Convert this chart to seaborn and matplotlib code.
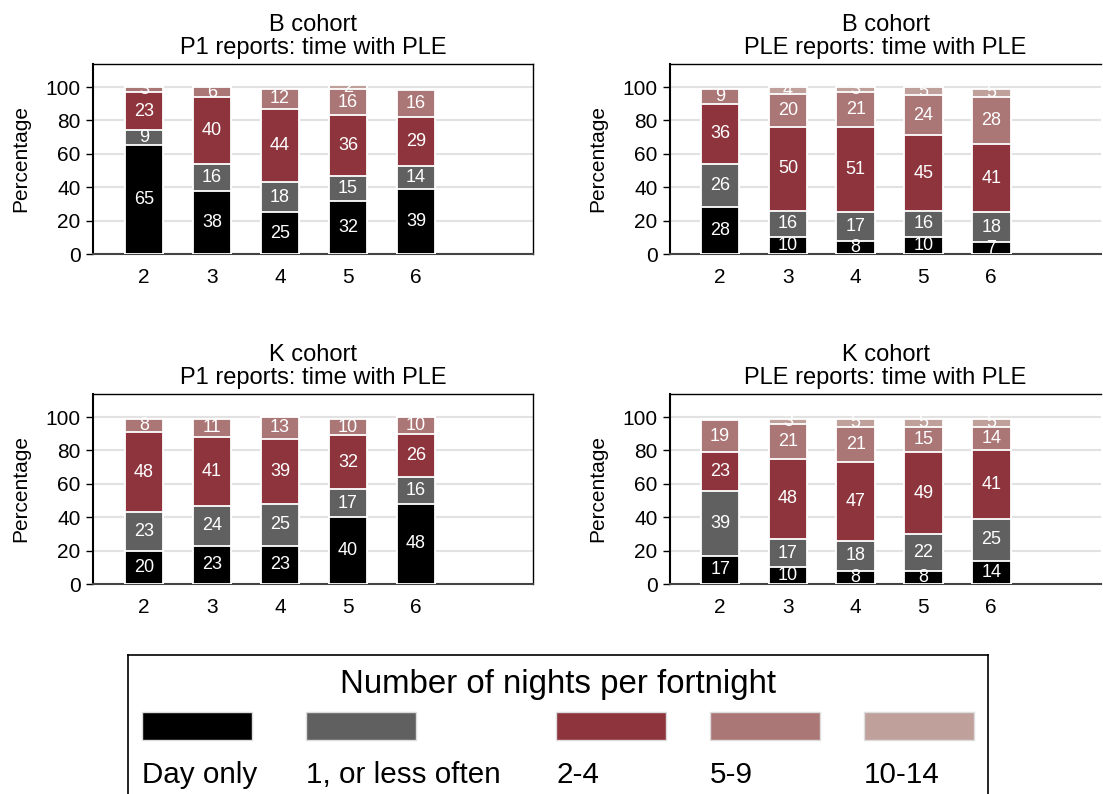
import matplotlib
matplotlib.use('Agg')
import matplotlib.pyplot as plt
from matplotlib.patches import Rectangle
import seaborn as sns
import pandas as pd

# waves on x axis
waves = [2, 3, 4, 5, 6]
cats = ['Day only', '1, or less often', '2-4', '5-9', '10-14']
colors = ['#000000', '#606060', '#8e343d', '#ab7676', '#bfa09a']

# rows: Day only, 1 or less, 2-4, 5-9, 10-14
b_p1 = [[65, 38, 25, 32, 39],
        [9, 16, 18, 15, 14],
        [23, 40, 44, 36, 29],
        [3, 6, 12, 16, 16],
        [0, 0, 0, 2, 0]]
b_ple = [[28, 10, 8, 10, 7],
         [26, 16, 17, 16, 18],
         [36, 50, 51, 45, 41],
         [9, 20, 21, 24, 28],
         [0, 4, 3, 5, 5]]
k_p1 = [[20, 23, 23, 40, 48],
        [23, 24, 25, 17, 16],
        [48, 41, 39, 32, 26],
        [8, 11, 13, 10, 10],
        [0, 0, 0, 0, 0]]
k_ple = [[17, 10, 8, 8, 14],
         [39, 17, 18, 22, 25],
         [23, 48, 47, 49, 41],
         [19, 21, 21, 15, 14],
         [1, 3, 5, 5, 5]]

titles = ['B cohort\nP1 reports: time with PLE',
          'B cohort\nPLE reports: time with PLE',
          'K cohort\nP1 reports: time with PLE',
          'K cohort\nPLE reports: time with PLE']

sns.set_theme(style='white')
plt.rcParams['font.family'] = ['Liberation Sans', 'DejaVu Sans']
plt.rcParams['text.color'] = 'black'
plt.rcParams['axes.labelcolor'] = 'black'
plt.rcParams['xtick.color'] = 'black'
plt.rcParams['ytick.color'] = 'black'

W, H = 1103, 794
fig = plt.figure(figsize=(W / 100, H / 100), dpi=100)


def rect(l, t, r, b):
    return [l / W, 1 - b / H, (r - l) / W, (b - t) / H]


boxes = [(93, 64, 533, 254), (670, 64, 1101, 254),
         (93, 394, 533, 584), (670, 394, 1101, 584)]
xlims = [(-0.75, 5.72), (-0.74, 5.62), (-0.75, 5.72), (-0.74, 5.62)]
order = [str(w) for w in waves]

for data, title, box, xl in zip([b_p1, b_ple, k_p1, k_ple], titles, boxes, xlims):
    ax = fig.add_axes(rect(*box))
    df = pd.DataFrame(data, index=cats, columns=order).T
    cum = df.cumsum(axis=1)
    # draw from top layer down so lower layers cover upper ones
    for i in range(len(cats) - 1, -1, -1):
        sns.barplot(x=order, y=cum[cats[i]].values, order=order, color=colors[i],
                    width=0.57, edgecolor='white', linewidth=1.3,
                    errorbar=None, saturation=1, ax=ax, zorder=3)
    for j, w in enumerate(order):
        base = 0
        for c in cats:
            v = df.loc[w, c]
            if v >= 2:
                ax.text(j, base + v / 2, str(v), color='white', fontsize=13,
                        ha='center', va='center', zorder=5)
            base += v
    ax.set_xlim(*xl)
    ax.set_ylim(0, 113.8)
    ax.set_yticks([0, 20, 40, 60, 80, 100])
    ax.yaxis.grid(True, color='#e2e2e2', lw=1.5)
    ax.set_axisbelow(True)
    ax.tick_params(axis='y', left=True, length=5, width=1, labelsize=15, pad=4)
    ax.tick_params(axis='x', bottom=False, labelsize=15, pad=4)
    ax.set_ylabel('Percentage', fontsize=15, labelpad=11)
    ax.set_xlabel('')
    ax.set_title(title, fontsize=17, pad=7, linespacing=1.1)
    for s in ['top', 'right']:
        ax.spines[s].set_color('black')
        ax.spines[s].set_linewidth(1)
    ax.spines['left'].set_color('black')
    ax.spines['left'].set_linewidth(1.5)
    ax.spines['bottom'].set_color('#444444')
    ax.spines['bottom'].set_linewidth(1.5)
    if xl[1] < 5.7:
        ax.spines['right'].set_visible(False)

# legend box drawn as its own axes
lax = fig.add_axes(rect(128, 655, 988, 800))
lax.set_xlim(128, 988)
lax.set_ylim(800, 655)
lax.set_xticks([])
lax.set_yticks([])
for s in lax.spines.values():
    s.set_color('black')
    s.set_linewidth(1.2)
lax.text(558, 685, 'Number of nights per fortnight', fontsize=23.8,
         ha='center', va='center')
lefts = [142, 306, 556, 710, 864]
for x0, c, lab in zip(lefts, colors, cats):
    lax.add_patch(Rectangle((x0, 712), 110, 28, facecolor=c,
                            edgecolor='#dddddd', lw=1))
    lax.text(x0, 775, lab, fontsize=21.3, ha='left', va='center')

fig.savefig('out.png', dpi=100)
